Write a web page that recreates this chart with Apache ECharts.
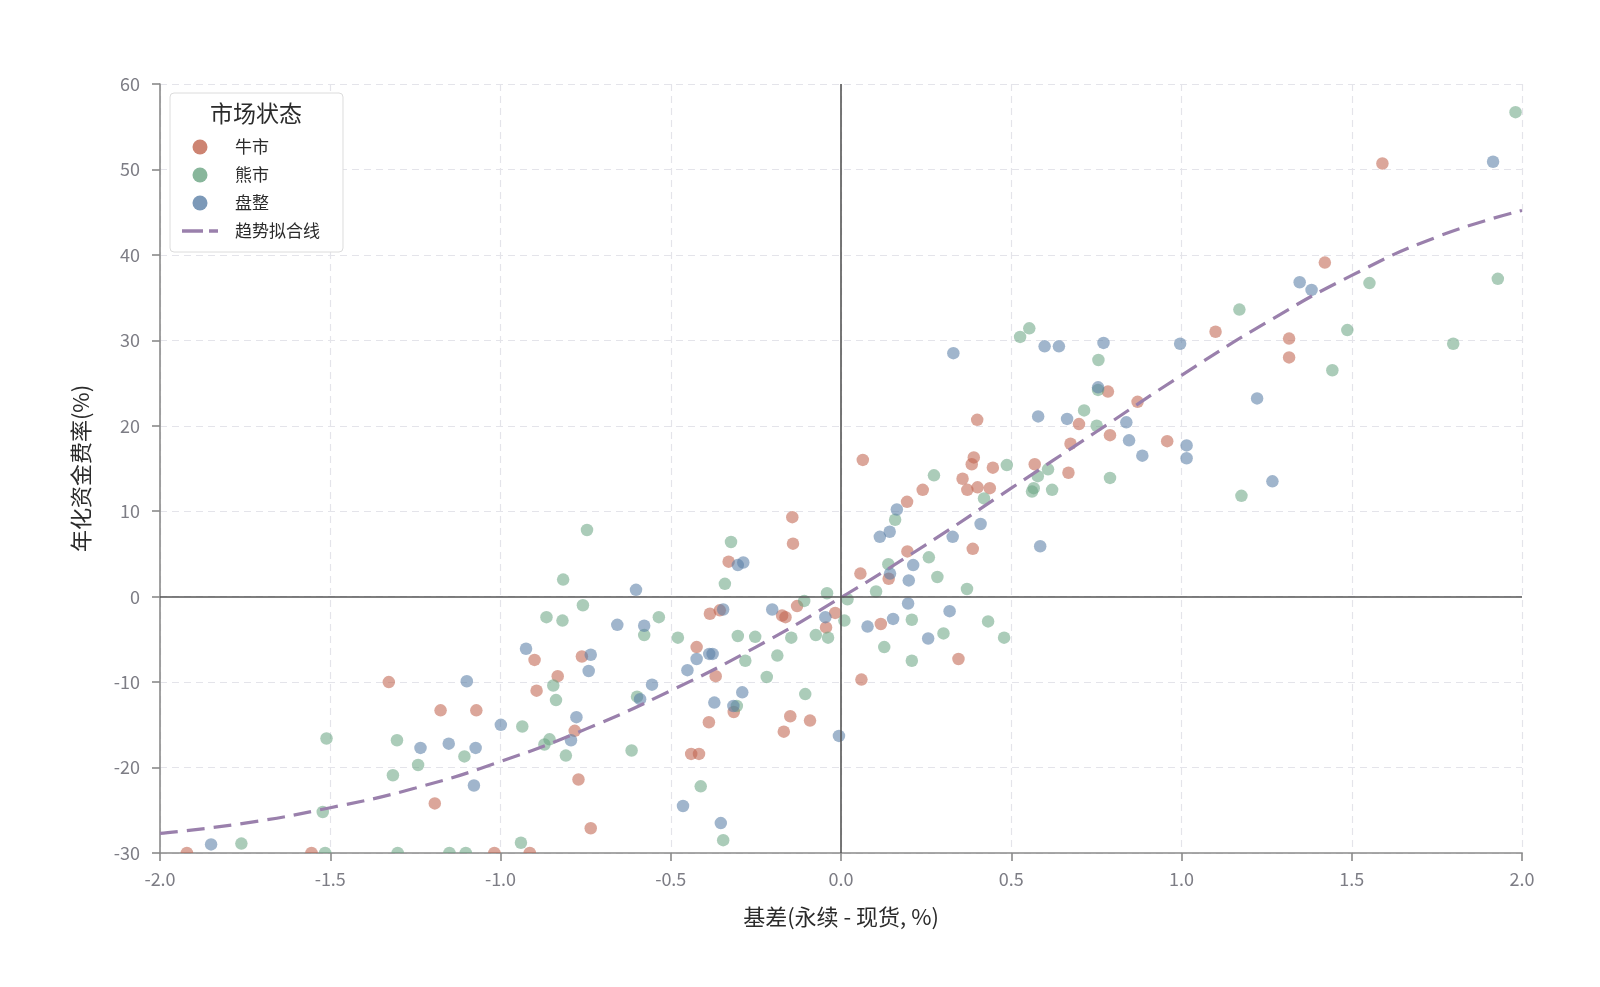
<!DOCTYPE html>
<html>
<head>
<meta charset="utf-8">
<script src="https://cdn.jsdelivr.net/npm/echarts@6/dist/echarts.min.js"></script>
<style>
html,body{margin:0;padding:0;background:#fff;}
#chart{width:1600px;height:987px;}
</style>
</head>
<body>
<div id="chart"></div>
<script>
// ---- data ----
const seriesNames = ['牛市', '熊市', '盘整'];
const trendName = '趋势拟合线';

const bullPoints = [
  [1.590,50.7],[1.421,39.1],[1.100,31.0],[1.316,30.2],[1.316,28.0],[0.958,18.2],
  [0.784,24.0],[0.871,22.8],[0.699,20.2],[0.790,18.9],[0.400,20.7],[0.674,17.9],
  [0.064,16.0],[0.390,16.3],[0.384,15.5],[0.446,15.1],[0.569,15.5],[0.668,14.5],
  [0.357,13.8],[0.371,12.5],[0.401,12.8],[0.437,12.7],[0.240,12.5],[0.194,11.1],
  [0.387,5.6],[0.195,5.3],[0.140,2.1],[0.057,2.7],[-0.017,-1.9],[-0.044,-3.6],
  [0.117,-3.2],[0.345,-7.3],[0.060,-9.7],
  [-0.143,9.3],[-0.141,6.2],[-0.330,4.1],[-0.129,-1.1],[-0.385,-2.0],[-0.356,-1.6],
  [-0.173,-2.2],[-0.163,-2.4],[-0.900,-7.4],[-0.761,-7.0],[-0.832,-9.3],[-0.894,-11.0],
  [-0.424,-5.9],[-0.368,-9.3],[-0.315,-13.5],[-0.149,-14.0],[-0.091,-14.5],[-0.168,-15.8],
  [-0.388,-14.7],[-0.782,-15.7],[-0.440,-18.4],[-0.417,-18.4],[-0.771,-21.4],[-0.735,-27.1],
  [-1.328,-10.0],[-1.176,-13.3],[-1.071,-13.3],[-1.193,-24.2],
  [-1.921,-30],[-1.555,-30],[-1.018,-30],[-0.914,-30]
];

const bearPoints = [
  [1.981,56.7],[1.552,36.7],[1.929,37.2],[1.170,33.6],[1.487,31.2],[1.798,29.6],
  [1.443,26.5],[1.176,11.8],
  [0.526,30.4],[0.553,31.4],[0.756,27.7],[0.755,24.2],[0.714,21.8],[0.751,20.0],
  [0.487,15.4],[0.608,14.9],[0.578,14.1],[0.790,13.9],[0.273,14.2],[0.566,12.7],
  [0.561,12.3],[0.620,12.5],[0.420,11.5],
  [0.159,9.0],[0.258,4.6],[0.139,3.8],[0.283,2.3],[0.370,0.9],[0.103,0.6],[0.019,-0.3],
  [-0.041,0.4],[-0.038,-4.8],[0.010,-2.8],[0.208,-2.7],[0.432,-2.9],[0.301,-4.3],
  [0.479,-4.8],[0.127,-5.9],[0.208,-7.5],
  [-0.746,7.8],[-0.323,6.4],[-0.816,2.0],[-0.341,1.5],[-0.108,-0.5],[-0.758,-1.0],
  [-0.865,-2.4],[-0.818,-2.8],[-0.535,-2.4],[-0.578,-4.5],[-0.074,-4.5],[-0.146,-4.8],
  [-0.252,-4.7],[-0.303,-4.6],[-0.479,-4.8],[-0.845,-10.4],[-0.837,-12.1],[-0.281,-7.5],
  [-0.187,-6.9],[-0.218,-9.4],[-0.599,-11.7],[-0.105,-11.4],[-0.306,-12.8],[-0.936,-15.2],
  [-0.856,-16.7],[-0.871,-17.3],[-0.808,-18.6],[-0.615,-18.0],[-0.412,-22.2],[-0.940,-28.8],
  [-0.346,-28.5],
  [-1.511,-16.6],[-1.304,-16.8],[-1.106,-18.7],[-1.242,-19.7],[-1.316,-20.9],[-1.522,-25.2],
  [-1.761,-28.9],
  [-1.515,-30],[-1.302,-30],[-1.150,-30],[-1.102,-30]
];

const rangePoints = [
  [1.915,50.9],[1.347,36.8],[1.382,35.9],[0.996,29.6],[1.222,23.2],[1.015,17.7],
  [1.015,16.2],[1.267,13.5],
  [0.330,28.5],[0.598,29.3],[0.640,29.3],[0.771,29.7],[0.755,24.5],[0.579,21.1],
  [0.664,20.8],[0.838,20.4],[0.846,18.3],[0.885,16.5],[0.164,10.2],
  [0.114,7.0],[0.143,7.6],[0.328,7.0],[0.410,8.5],[0.585,5.9],[0.212,3.7],[0.144,2.7],
  [0.199,1.9],[0.197,-0.8],[0.319,-1.7],[-0.046,-2.4],[0.078,-3.5],[0.153,-2.6],
  [0.256,-4.9],[-0.006,-16.3],
  [-0.303,3.7],[-0.287,4.0],[-0.602,0.8],[-0.657,-3.3],[-0.578,-3.4],[-0.346,-1.5],
  [-0.202,-1.5],[-0.925,-6.1],[-0.735,-6.8],[-0.741,-8.7],[-0.424,-7.3],[-0.451,-8.6],
  [-0.387,-6.7],[-0.377,-6.7],[-0.555,-10.3],[-0.590,-12.0],[-0.290,-11.2],[-0.372,-12.4],
  [-0.316,-12.8],[-0.999,-15.0],[-0.777,-14.1],[-0.793,-16.8],[-0.464,-24.5],[-0.353,-26.5],
  [-1.099,-9.9],[-1.235,-17.7],[-1.152,-17.2],[-1.073,-17.7],[-1.078,-22.1],[-1.850,-29.0]
];

// trend line, read at every 0.25 along the x axis
const trendX = [-2,-1.75,-1.5,-1.25,-1,-0.75,-0.5,-0.25,0,0.25,0.5,0.75,1,1.25,1.5,1.75,2];
const trendY = [-27.7,-26.5,-24.7,-22.4,-19.3,-15.5,-11.0,-5.9,-0.1,6.1,12.7,19.3,25.9,32.1,37.6,42.1,45.2];

const xTicks = {min:-2, max:2, step:0.5};
const yTicks = {min:-30, max:60, step:10};

// ---- styles ----
const solidColors = ['#c0654f', '#6aa482', '#5b7fa6'];
const pointColors = ['rgba(192,101,79,0.72)', 'rgba(106,164,130,0.70)', 'rgba(91,127,166,0.72)'];
const trendColor = '#9a80ac';
const cjk = '"Noto Sans CJK SC", "Noto Sans", sans-serif';
const markerSize = 12.5;
// upper half of a circle: points lying on the lower frame edge are cut by the plot area
const halfCircle = 'path://M0,10 A10,10 0 0 1 20,10 Z';
const dashIcon = 'path://M0,0 L21,0 L21,3.5 L0,3.5 Z M27,0 L36,0 L36,3.5 L27,3.5 Z';

const chart = echarts.init(document.getElementById('chart'), null, {renderer: 'canvas'});

const pointSets = [bullPoints, bearPoints, rangePoints];
const toItem = p => (p[1] <= yTicks.min)
  ? {value: p, symbol: halfCircle, symbolKeepAspect: false,
     symbolSize: [markerSize, markerSize / 2], symbolOffset: [0, -markerSize / 4]}
  : {value: p};

const scatterSeries = seriesNames.map((name, i) => ({
  name: name,
  type: 'scatter',
  data: pointSets[i].map(toItem),
  symbol: 'circle',
  symbolSize: markerSize,
  itemStyle: {color: pointColors[i], borderWidth: 0},
  z: 3,
  emphasis: {disabled: true}
}));

const option = {
  backgroundColor: '#ffffff',
  animation: false,
  grid: {left: 160, right: 78, top: 84, bottom: 134, containLabel: false},
  xAxis: {
    type: 'value',
    min: xTicks.min, max: xTicks.max, interval: xTicks.step,
    name: '基差(永续 - 现货, %)',
    nameLocation: 'middle',
    nameGap: 53,
    nameTextStyle: {fontFamily: cjk, fontSize: 22, color: '#2b2b2b'},
    axisLine: {show: true, onZero: false, lineStyle: {color: '#8a8a8a', width: 1.6}},
    axisTick: {show: true, inside: false, length: 8, lineStyle: {color: '#8a8a8a', width: 1.6}},
    axisLabel: {fontFamily: cjk, fontSize: 18, color: '#7d7d85', margin: 17,
      formatter: v => v.toFixed(1)},
    splitLine: {show: true, lineStyle: {color: '#e4e4ea', type: [7, 5], width: 1.2}}
  },
  yAxis: {
    type: 'value',
    min: yTicks.min, max: yTicks.max, interval: yTicks.step,
    name: '年化资金费率(%)',
    nameLocation: 'middle',
    nameGap: 68,
    nameRotate: 90,
    nameTextStyle: {fontFamily: cjk, fontSize: 22, color: '#2b2b2b'},
    axisLine: {show: true, onZero: false, lineStyle: {color: '#8a8a8a', width: 1.6}},
    axisTick: {show: true, inside: false, length: 8, lineStyle: {color: '#8a8a8a', width: 1.6}},
    axisLabel: {fontFamily: cjk, fontSize: 18, color: '#7d7d85', margin: 20},
    splitLine: {show: true, lineStyle: {color: '#e4e4ea', type: [7, 5], width: 1.2}}
  },
  legend: {
    orient: 'vertical',
    left: 170, top: 93,
    padding: [45, 23, 12, 12],
    backgroundColor: '#ffffff',
    borderColor: '#dcdcdc',
    borderWidth: 1,
    borderRadius: 4,
    itemWidth: 36,
    itemHeight: 15,
    itemGap: 10,
    symbolKeepAspect: true,
    textStyle: {fontFamily: cjk, fontSize: 17, color: '#2b2b2b', lineHeight: 18, padding: [0, 0, 0, 12]},
    data: [
      {name: '牛市', icon: 'circle', itemStyle: {color: solidColors[0]}},
      {name: '熊市', icon: 'circle', itemStyle: {color: solidColors[1]}},
      {name: '盘整', icon: 'circle', itemStyle: {color: solidColors[2]}},
      {name: trendName, icon: dashIcon, itemStyle: {color: trendColor, borderWidth: 0},
       lineStyle: {width: 0}}
    ],
    selectedMode: false,
    z: 10
  },
  graphic: [{
    type: 'text',
    left: 210, top: 102,
    z: 100,
    style: {text: '市场状态', fontFamily: cjk, fontSize: 23, fill: '#2b2b2b'}
  }],
  series: [
    {
      name: 'zero',
      type: 'line',
      data: [],
      silent: true,
      z: 1,
      markLine: {
        silent: true,
        symbol: 'none',
        label: {show: false},
        lineStyle: {color: '#555555', width: 1.6, type: 'solid'},
        data: [{xAxis: 0}, {yAxis: 0}],
        animation: false
      }
    },
    ...scatterSeries,
    {
      name: trendName,
      type: 'line',
      data: trendX.map((x, i) => [x, trendY[i]]),
      smooth: true,
      showSymbol: false,
      symbol: 'none',
      lineStyle: {color: trendColor, width: 3.2, type: [18, 9]},
      itemStyle: {color: trendColor},
      z: 4,
      emphasis: {disabled: true}
    }
  ]
};
chart.setOption(option);
</script>
</body>
</html>
